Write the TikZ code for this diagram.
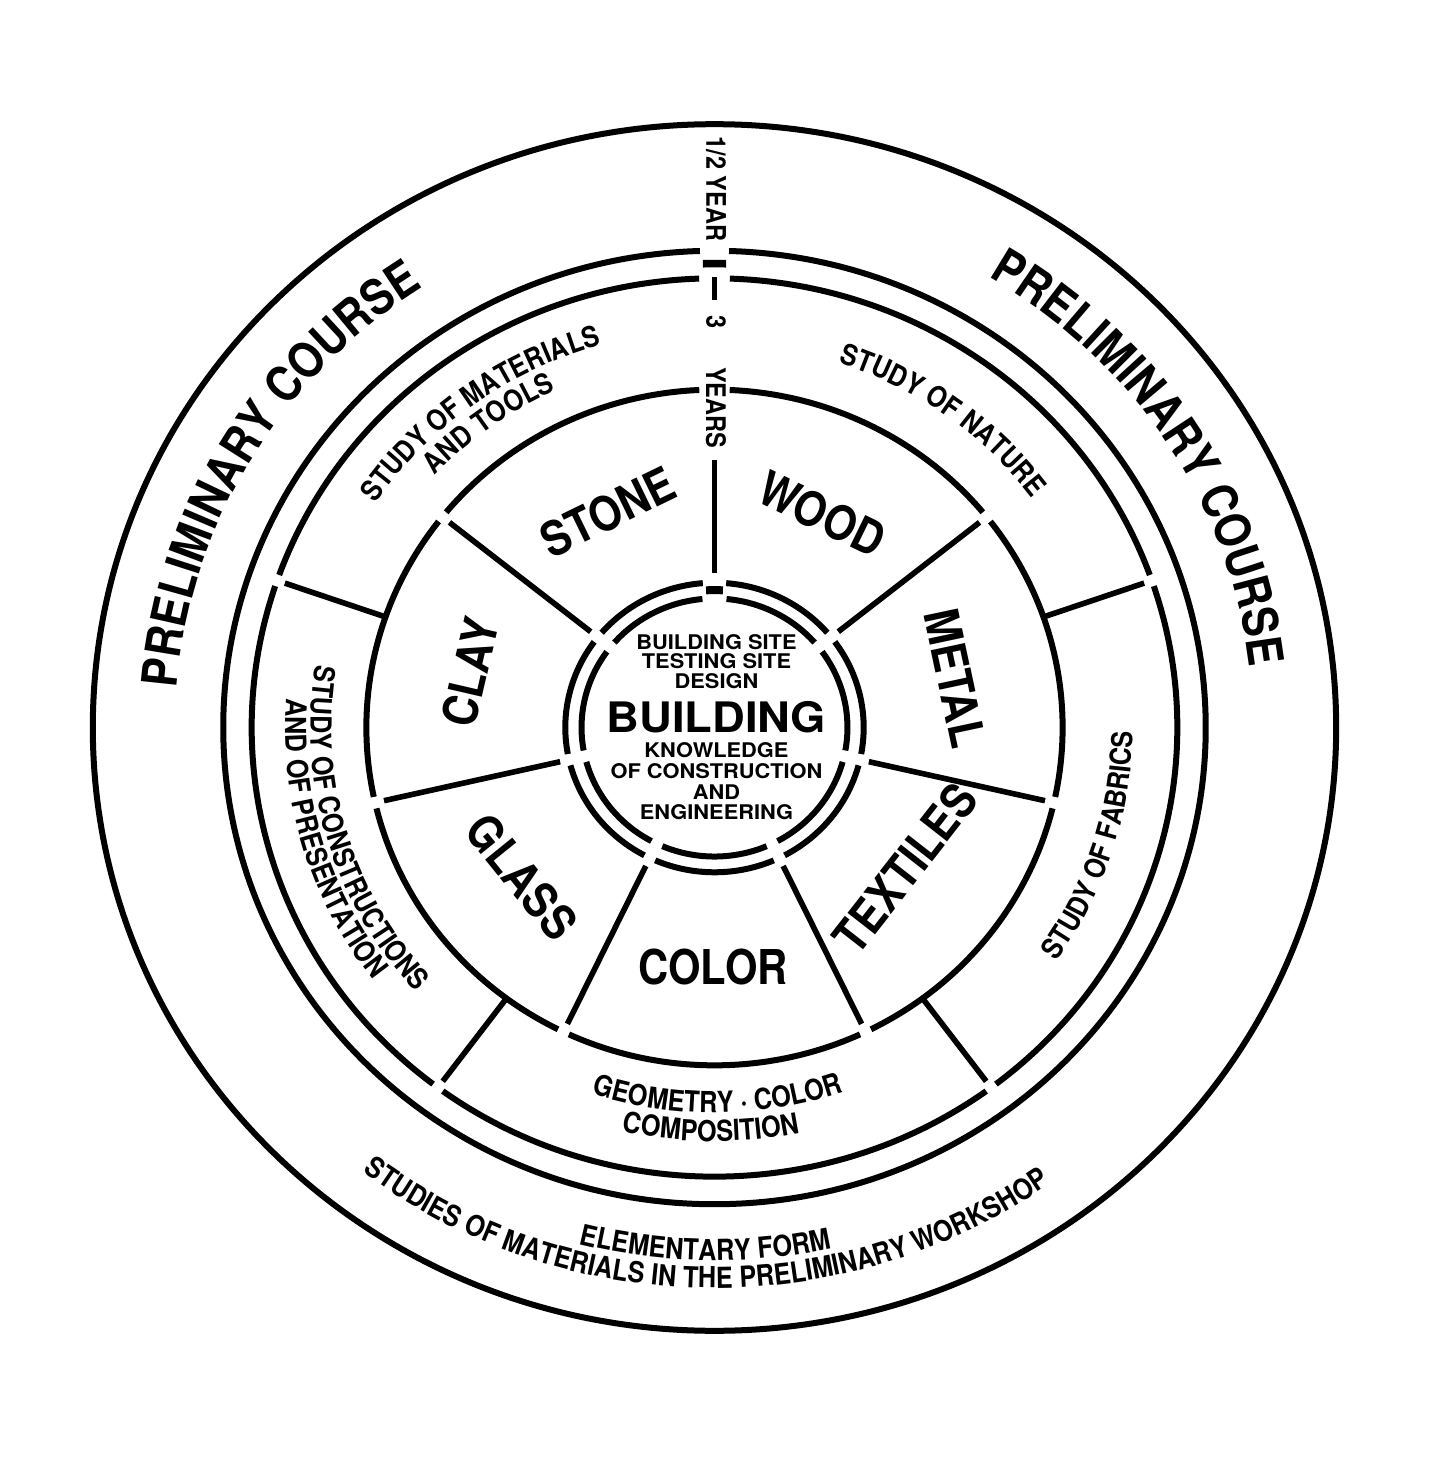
\documentclass[tikz,border=0pt]{standalone}
\usepackage{fontspec}
\setmainfont{TeX Gyre Heros}
\newfontfamily\fo{TeX Gyre Heros}[FakeStretch=0.87]
\newfontfamily\fcen{TeX Gyre Heros}[FakeStretch=1.08]
\usetikzlibrary{decorations.text}
\newcommand\fsmall{\fo\bfseries\fontsize{14.5}{17}\selectfont}
\newcommand\fyear{\fo\bfseries\fontsize{13.5}{16}\selectfont}
\newcommand\fpre{\fo\bfseries\fontsize{24.5}{28}\selectfont}
\newcommand\fwork{\fo\bfseries\fontsize{24}{28}\selectfont}
\newcommand\fcs{\fcen\bfseries\fontsize{10.1}{12}\selectfont}
\newcommand\fcb{\fcen\bfseries\fontsize{21}{24}\selectfont}
\newcommand\cwtext[4]{\path[decorate,decoration={text along path,text align=center,text={|#3|#4}}] ({#2+70}:#1) arc[start angle={#2+70},end angle={#2-70},radius=#1];}
\newcommand\ccwtext[4]{\path[decorate,decoration={text along path,text align=center,text={|#3|#4}}] ({#2-70}:#1) arc[start angle={#2-70},end angle={#2+70},radius=#1];}
\newcommand\rarc[3]{\draw[ring] (#1:#3) arc[start angle=#1,end angle=#2,radius=#3];}
\tikzset{
  ring/.style={line width=3pt},
  spoke/.style={line width=2.8pt},
  bridge/.style={line width=3.8pt},
  wk/.style={font=\fwork,inner sep=0pt},
  yr/.style={font=\fyear,inner sep=0pt},
  cs/.style={font=\fcs,inner sep=0pt},
  cb/.style={font=\fcb,inner sep=0pt}
}
\begin{document}
\begin{tikzpicture}[x=0.5pt,y=0.5pt]
\useasboundingbox[fill=white] (-714.5,-730.5) rectangle (717.5,727.5);
\begin{scope}[xscale=1.015,yscale=0.985]
  % outer circle and double ring
  \draw[ring] (0,0) circle[radius=612.5];
  \rarc{91.7}{448.3}{484}
  % ring 3
  \rarc{-125.95}{-54.05}{456}
  \rarc{-52.55}{18.35}{456}
  \rarc{19.85}{88.1}{456}
  \rarc{91.9}{160.15}{456}
  \rarc{161.65}{232.55}{456}
  % ring 4
  \rarc{-166.143}{-116.714}{343}
  \rarc{-114.714}{-65.286}{343}
  \rarc{-63.286}{-13.857}{343}
  \rarc{-11.857}{37.571}{343}
  \rarc{39.571}{87.5}{343}
  \rarc{92.5}{140.429}{343}
  \rarc{142.429}{191.857}{343}
  % centre outer ring
  \rarc{-164.843}{-118.014}{147}
  \rarc{-113.414}{-66.586}{147}
  \rarc{-61.986}{-15.157}{147}
  \rarc{-10.557}{36.271}{147}
  \rarc{40.871}{85.5}{147}
  \rarc{94.5}{139.129}{147}
  \rarc{143.729}{190.557}{147}
  % centre inner ring
  \rarc{-164.543}{-118.314}{131}
  \rarc{-113.114}{-66.886}{131}
  \rarc{-61.686}{-15.457}{131}
  \rarc{-10.257}{35.971}{131}
  \rarc{41.171}{84.8}{131}
  \rarc{95.2}{138.829}{131}
  \rarc{144.029}{190.257}{131}
  % bridges at the top
  \draw[bridge] (88.6:471) arc[start angle=88.6,end angle=91.4,radius=471];
  \draw[line width=4pt] (86.6:139.5) arc[start angle=86.6,end angle=93.4,radius=139.5];
  % spokes
  \foreach \a in {38.571,-12.857,-64.286,-115.714,-167.143,141.429}
    \draw[spoke] (\a:156) -- (\a:334);
  \draw[spoke] (90:157) -- (90:271.6);
  \foreach \a in {160.9,19.1,-126.7,-53.3}
    \draw[spoke] (\a:343) -- (\a:448);
  \draw[spoke] (90:434) -- (90:457.4);
  % curved texts
  \cwtext{531}{149.7}{\fpre}{PRELIMINARY COURSE}
  \cwtext{531}{32.5}{\fpre}{PRELIMINARY COURSE}
  \cwtext{404}{126.5}{\fsmall}{STUDY OF MATERIALS}
  \cwtext{376}{126.5}{\fsmall}{AND TOOLS}
  \cwtext{390}{53.5}{\fsmall}{STUDY OF NATURE}
  \ccwtext{398}{196.3}{\fsmall}{STUDY OF CONSTRUCTIONS}
  \ccwtext{423}{196.3}{\fsmall}{AND OF PRESENTATION}
  \ccwtext{412}{-17.5}{\fsmall}{STUDY OF FABRICS}
  \ccwtext{391}{-89.5}{\fsmall}{GEOMETRY · COLOR}
  \ccwtext{420}{-90.5}{\fsmall}{COMPOSITION}
  \ccwtext{541}{-91}{\fsmall}{ELEMENTARY FORM}
  \ccwtext{569}{-91}{\fsmall}{STUDIES OF MATERIALS IN THE PRELIMINARY WORKSHOP}
\end{scope}
\begin{scope}[y=-0.5pt,shift={(-714.5,-727.5)}]
  \node[yr,rotate=-90] (half) at (716,189) {1/2 YEAR};
  \node[yr,rotate=-90] (three) at (716,322) {3};
  \node[yr,rotate=-90] (years) at (716,407.5) {YEARS};
  \node[wk,rotate=26] (stone) at (608,512) {STONE};
  \node[wk,rotate=-26] (wood) at (822,514) {WOOD};
  \node[wk,rotate=-78] (metal) at (955,678) {METAL};
  \node[wk,rotate=52] (textiles) at (905,868) {TEXTILES};
  \node[wk] (color) at (713,967) {COLOR};
  \node[wk,rotate=-51] (glass) at (522,877) {GLASS};
  \node[wk,rotate=77] (clay) at (470,672) {CLAY};
  \node[cs] (c1) at (716.5,641.7) {BUILDING SITE};
  \node[cs] (c2) at (716.5,660.7) {TESTING SITE};
  \node[cs] (c3) at (716.5,681) {DESIGN};
  \node[cb] (cb) at (716.5,716.7) {BUILDING};
  \node[cs] (c4) at (716.5,750) {KNOWLEDGE};
  \node[cs] (c5) at (716.5,770.7) {OF CONSTRUCTION};
  \node[cs] (c6) at (716.5,791.7) {AND};
  \node[cs] (c7) at (716.5,811.7) {ENGINEERING};
\end{scope}
\end{tikzpicture}
\end{document}
